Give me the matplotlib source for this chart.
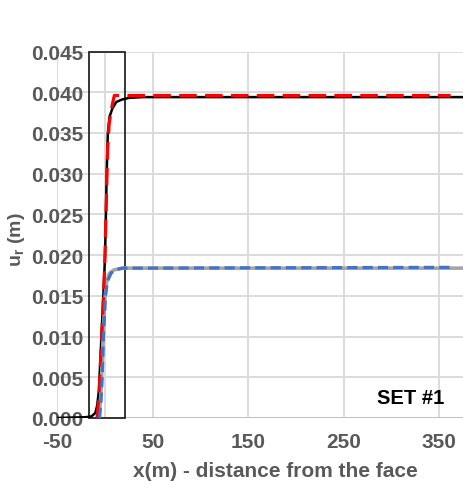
import matplotlib
matplotlib.use("Agg")
import matplotlib.pyplot as plt
from matplotlib.patches import Rectangle

# Radial displacement profiles along the tunnel axis
x_black = [-50, -20, -14, -10, -8, -6, -5.5, -3.5, -1.5, 0.3, 1.2, 2.0, 3.2, 5, 8, 12, 18, 25, 40, 376]
u_black = [0.0, 0.0001, 0.0002, 0.0006, 0.0015, 0.0035, 0.005, 0.010, 0.015, 0.020, 0.025, 0.030,
           0.035, 0.037, 0.038, 0.0388, 0.0391, 0.0393, 0.0394, 0.0394]

x_red = [-8, -6, -4, -2, 0, 1.5, 3, 4.5, 7, 10, 362]
u_red = [0.0, 0.003, 0.008, 0.013, 0.019, 0.026, 0.033, 0.036, 0.038, 0.0396, 0.0396]

x_grey = [-6, -4, -2, 0, 2, 5, 10, 20, 376]
u_grey = [0.0, 0.003, 0.009, 0.0145, 0.0168, 0.0178, 0.0182, 0.0184, 0.0184]

x_blue = [-5.5, -4, -2.7, -1.4, 0.7, 2.8, 6.7, 12, 17.5, 362]
u_blue = [0.0, 0.002, 0.005, 0.010, 0.015, 0.0168, 0.0178, 0.0182, 0.0184, 0.0185]

# Highlighted region near the face
box_x = [-16, 21]
box_u = [0.0, 0.045]

x_ticks = [-50, 50, 150, 250, 350]
y_ticks = [0.000, 0.005, 0.010, 0.015, 0.020, 0.025, 0.030, 0.035, 0.040, 0.045]

plt.rcParams['font.family'] = ['Liberation Sans', 'DejaVu Sans']
label_color = '#595959'
grid_color = '#D9D9D9'

fig = plt.figure(figsize=(4.64, 4.89), dpi=100)
ax = fig.add_axes([57 / 464, 1 - 419 / 489, 1 - 57 / 464, (419 - 52.5) / 489])
ax.set_xlim(-50, 376)
ax.set_ylim(0, 0.045)

for s in ax.spines.values():
    s.set_visible(False)

ax.set_axisbelow(True)
ax.set_xticks(x_ticks)
ax.set_yticks(y_ticks)
ax.set_xticklabels([f"{v:d}" for v in x_ticks])
ax.set_yticklabels([f"{v:.3f}" for v in y_ticks])
ax.grid(True, color=grid_color, linewidth=1.3)
ax.axvline(0, color=grid_color, linewidth=1.3, zorder=0.6)
ax.axhline(0, color='#BFBFBF', linewidth=1.3, zorder=0.6)

ax.tick_params(axis='both', length=0, labelsize=15, labelcolor=label_color)
ax.tick_params(axis='y', pad=-19)
ax.tick_params(axis='x', pad=10)
for lab in ax.get_xticklabels() + ax.get_yticklabels():
    lab.set_fontweight('bold')

ax.add_patch(Rectangle((box_x[0], box_u[0]), box_x[1] - box_x[0], box_u[1] - box_u[0],
                       fill=False, edgecolor='#262626', linewidth=1.3, zorder=2.8, clip_on=False))

ax.plot(x_black, u_black, color='black', linewidth=1.8, zorder=3)
ax.plot(x_red, u_red, color='#FF0000', linewidth=2.3, dashes=(5.5, 2.6), zorder=3.2)
ax.plot(x_grey, u_grey, color='#A5A5A5', linewidth=2.6, zorder=3)
ax.plot(x_blue, u_blue, color='#4472C4', linewidth=2.3, dashes=(3.2, 1.6), zorder=3.2)

ax.set_xlabel('x(m) - distance from the face', fontsize=15, fontweight='bold',
              color=label_color)
ax.xaxis.set_label_coords((275 - 57) / (464 - 57), -(472 - 419) / (419 - 52.5))
ax.xaxis.label.set_va('center')
fig.text(17 / 464, 1 - 240 / 489, r'u$_\mathregular{r}$ (m)', rotation=90, fontsize=14,
         fontweight='bold', color=label_color, ha='center', va='center')

ax.text(320, 0.045 * (419 - 399) / (419 - 52.5), 'SET #1', fontsize=14.5, fontweight='bold',
        color='black', ha='center', va='center', zorder=4)

fig.savefig('out.png', dpi=100)
